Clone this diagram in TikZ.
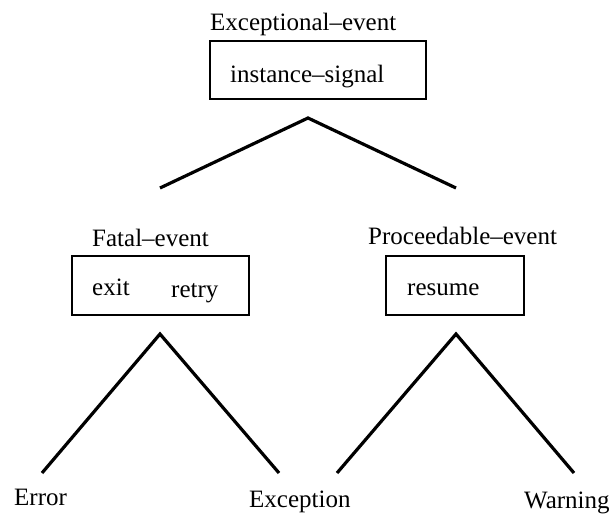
\documentclass[tikz,border=0pt]{standalone}
\usepackage{fontspec}
\setmainfont{Liberation Serif}
\usepackage{tikz}
\usetikzlibrary{positioning}

\begin{document}
\begin{tikzpicture}[x=1pt,y=-1pt,
	lbl/.style={anchor=base west,inner sep=0pt,font=\fontsize{25}{30}\selectfont},
	cls/.style={draw,line width=1.8pt,inner sep=0pt},
	branch/.style={line width=3.2pt}]
	\useasboundingbox (0,0) rectangle (613,514);

	% oberste Klasse
	\node[lbl] (exct) at (210,30) {Exceptional--event};
	\node[cls,minimum width=216pt,minimum height=58pt] (excb) at (318,70) {};
	\node[lbl] (sig) at (230,82) {instance--signal};
	\coordinate (top) at (308,118);
	\coordinate (topl) at (160,188);
	\coordinate (topr) at (456,188);
	\draw[branch] (topl) -- (top) -- (topr);

	% Fatal
	\node[lbl] (fatt) at (92,246) {Fatal--event};
	\node[cls,minimum width=177pt,minimum height=59pt] (fatb) at (160.5,285.5) {};
	\node[lbl] (exit) at (92,295) {exit};
	\node[lbl] (retry) at (171,297) {retry};

	% Proceedable
	\node[lbl] (prot) at (368,244) {Proceedable--event};
	\node[cls,minimum width=138pt,minimum height=59pt] (prob) at (455,285.5) {};
	\node[lbl] (res) at (407,295) {resume};

	% Unterklassen
	\coordinate (fa) at (160,334);
	\coordinate (fl) at (42,473);
	\coordinate (fr) at (279,473);
	\coordinate (pa) at (456,334);
	\coordinate (pl) at (337,473);
	\coordinate (pr) at (574,473);
	\draw[branch] (fl) -- (fa) -- (fr);
	\draw[branch] (pl) -- (pa) -- (pr);

	\node[lbl] (err) at (14,505) {Error};
	\node[lbl] (exc) at (249,507) {Exception};
	\node[lbl] (warn) at (524,508) {Warning};
\end{tikzpicture}
\end{document}
